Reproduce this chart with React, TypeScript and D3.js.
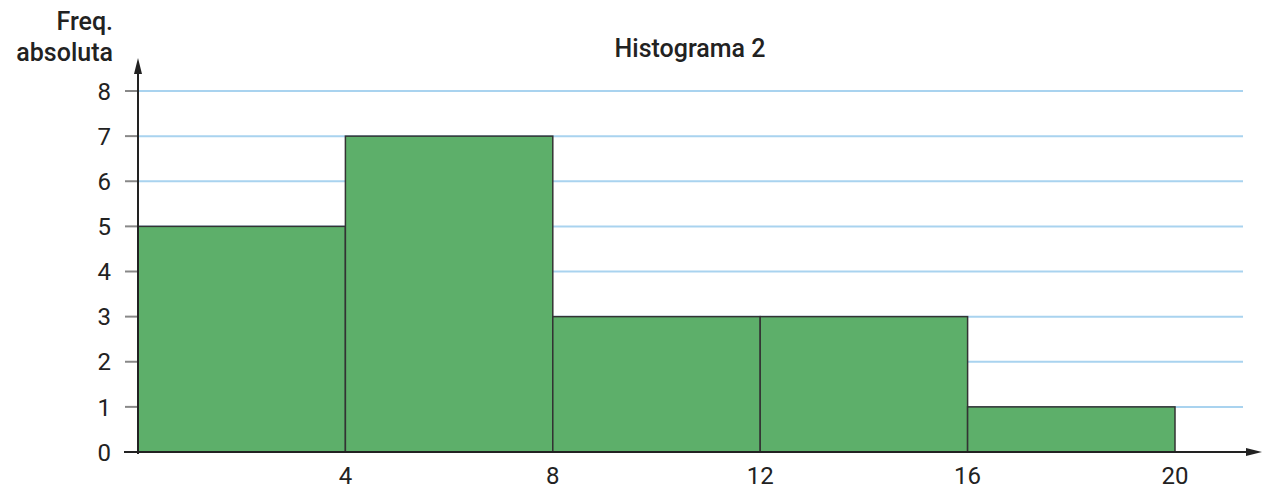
import React from "react";
import * as d3 from "d3";

const binStarts = [0, 4, 8, 12, 16];
const binEnds = [4, 8, 12, 16, 20];
const frequencies = [5, 7, 3, 3, 1];
const yTicks = [0, 1, 2, 3, 4, 5, 6, 7, 8];
const xTicks = [4, 8, 12, 16, 20];
const title = "Histograma 2";
const yLabel = ["Freq.", "absoluta"];

export default function App() {
  const W = 1268, H = 490;
  const x0 = 138, y0 = 452;
  const x = d3.scaleLinear().domain([0, 20]).range([x0, 1175]);
  const y = d3.scaleLinear().domain([0, 8]).range([y0, 91]);
  const font = "Roboto, 'Open Sans', sans-serif";
  return (
    <svg width={W} height={H} style={{ position: "absolute", left: 0, top: 0 }} fontFamily={font}>
      <rect width={W} height={H} fill="#fff" />
      {yTicks.filter(t => t > 0).map(t => (
        <line key={"g" + t} x1={x0} x2={1243} y1={y(t)} y2={y(t)} stroke="#a9d3ef" strokeWidth={2} />
      ))}
      {binStarts.map((s, i) => (
        <rect key={"b" + i} x={x(s)} y={y(frequencies[i])} width={x(binEnds[i]) - x(s)} height={y(0) - y(frequencies[i])}
          fill="#5daf6a" stroke="#333" strokeWidth={1.5} />
      ))}
      {yTicks.map(t => (
        <g key={"yt" + t}>
          <line x1={125} x2={x0} y1={y(t)} y2={y(t)} stroke="#888" strokeWidth={2} />
          <text x={111} y={y(t)} dy="0.36em" textAnchor="end" fontSize={24} fill="#222">{t}</text>
        </g>
      ))}
      {xTicks.map(t => (
        <text key={"xt" + t} x={x(t)} y={484} textAnchor="middle" fontSize={24} fill="#222">{t}</text>
      ))}
      <line x1={x0} x2={x0} y1={y0 + 2} y2={70} stroke="#222" strokeWidth={2} />
      <path d={`M${x0 - 4},${74} L${x0},${58} L${x0 + 4},${74} Z`} fill="#222" />
      <line x1={124} x2={1250} y1={y0} y2={y0} stroke="#222" strokeWidth={2} />
      <path d={`M${1246},${y0 - 4} L${1262},${y0} L${1246},${y0 + 4} Z`} fill="#222" />
      <text x={690} y={57} textAnchor="middle" fontSize={25} fontWeight={500} fill="#222">{title}</text>
      {yLabel.map((l, i) => (
        <text key={l} x={113} y={30 + i * 31} textAnchor="end" fontSize={25} fontWeight={500} fill="#222">{l}</text>
      ))}
    </svg>
  );
}
